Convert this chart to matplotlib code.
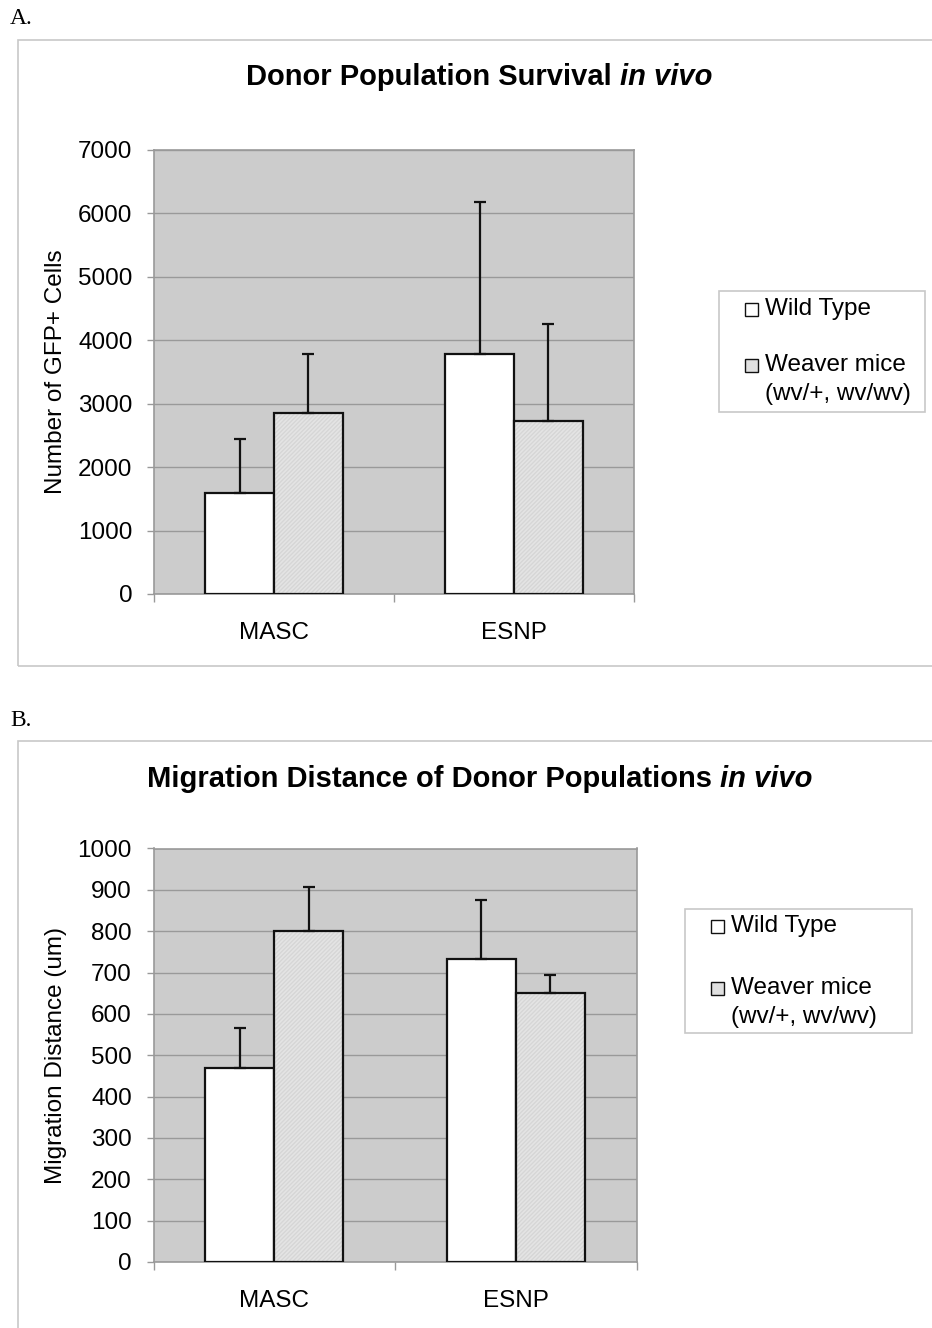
import matplotlib
matplotlib.use("Agg")
import matplotlib.pyplot as plt
from matplotlib.patches import Rectangle
import numpy as np

plt.rcParams['font.family'] = ['Liberation Sans', 'DejaVu Sans']

categories = ["MASC", "ESNP"]
series_names = ["Wild Type", "Weaver mice", "(wv/+, wv/wv)"]

# Panel A: Donor population survival
surv_wt = [1600, 3780]
surv_wt_err = [840, 2400]
surv_wv = [2850, 2720]
surv_wv_err = [935, 1540]

# Panel B: Migration distance
mig_wt = [470, 733]
mig_wt_err = [95, 142]
mig_wv = [800, 650]
mig_wv_err = [108, 43]

W, H = 932, 1328
FS = 17.5
fig = plt.figure(figsize=(W / 100, H / 100), dpi=100)


def fx(px):
    return px / W


def fy(py):
    return 1 - py / H


# Outer chart frames
fig.patches.append(Rectangle((fx(17.5), fy(666)), fx(932 - 17.5) + 0.01, fy(40) - fy(666),
                             transform=fig.transFigure, fill=False, edgecolor='#c8c8c8', lw=1.2))
fig.patches.append(Rectangle((fx(17.5), fy(1340)), fx(932 - 17.5) + 0.01, fy(741.5) - fy(1340),
                             transform=fig.transFigure, fill=False, edgecolor='#c8c8c8', lw=1.2))

fig.text(fx(10), fy(19), "A.", family='Liberation Serif', fontsize=17, va='center', ha='left')
fig.text(fx(10), fy(721), "B.", family='Liberation Serif', fontsize=17, va='center', ha='left')


def panel(rect, wt, wt_err, wv, wv_err, ymax, ystep, ylabel, leg_box, leg_y):
    ax = fig.add_axes(rect)
    ax.set_facecolor('#cccccc')
    x = np.arange(len(categories))
    w = 1 / 3.5
    ax.bar(x - w / 2, wt, width=w, color='white', edgecolor='#111111', lw=1.6, zorder=3)
    ax.bar(x + w / 2, wv, width=w, color='#e4e4e4', edgecolor='#d6d6d6', lw=0, hatch='////////', zorder=3)
    ax.bar(x + w / 2, wv, width=w, color='none', edgecolor='#111111', lw=1.6, zorder=4)
    ax.errorbar(x - w / 2, wt, yerr=[np.zeros(len(wt)), wt_err], fmt='none', ecolor='#111111',
                elinewidth=1.6, capsize=4.3, capthick=1.6, zorder=5)
    ax.errorbar(x + w / 2, wv, yerr=[np.zeros(len(wv)), wv_err], fmt='none', ecolor='#111111',
                elinewidth=1.6, capsize=4.3, capthick=1.6, zorder=5)
    ax.set_xlim(-0.5, len(categories) - 0.5)
    ax.set_ylim(0, ymax)
    ax.set_yticks(np.arange(0, ymax + 1, ystep))
    ax.yaxis.grid(True, color='#999999', lw=1.0)
    ax.set_axisbelow(True)
    ax.set_xticks(x)
    ax.set_xticklabels(categories, fontsize=FS)
    ax.set_xticks(np.arange(-0.5, len(categories), 1), minor=True)
    ax.tick_params(axis='x', which='major', length=0, pad=20)
    ax.tick_params(axis='x', which='minor', length=6, color='#999999', width=1)
    ax.tick_params(axis='y', length=5, color='#999999', width=1, labelsize=FS, pad=10.5)
    for s in ax.spines.values():
        s.set_color('#999999')
        s.set_linewidth(1.2)
    ax.set_ylabel(ylabel, fontsize=FS)
    axw_px = rect[2] * W
    ax.yaxis.set_label_coords((56 - rect[0] * W) / axw_px, 0.5)
    ax.yaxis.label.set_verticalalignment('center')
    # legend box
    lx0, ly0, lx1, ly1 = leg_box
    fig.patches.append(Rectangle((fx(lx0), fy(ly1)), fx(lx1) - fx(lx0), fy(ly0) - fy(ly1),
                                 transform=fig.transFigure, fill=True, facecolor='white',
                                 edgecolor='#c8c8c8', lw=1.2))
    mx = lx0 + 26
    for i, yy in enumerate(leg_y):
        fc = 'white' if i == 0 else '#e0e0e0'
        fig.patches.append(Rectangle((fx(mx), fy(yy + 6.5)), fx(13), fy(0) - fy(13),
                                     transform=fig.transFigure, facecolor=fc,
                                     edgecolor='#111111', lw=1.0))
    fig.text(fx(mx + 20), fy(leg_y[0]), series_names[0], fontsize=FS, ha='left', va='center')
    fig.text(fx(mx + 20), fy(leg_y[1]), series_names[1], fontsize=FS, ha='left', va='center')
    fig.text(fx(mx + 20), fy(leg_y[1] + 29), series_names[2], fontsize=FS, ha='left', va='center')
    return ax


axA = panel([fx(154), fy(594), fx(634) - fx(154), fy(150) - fy(594)],
            surv_wt, surv_wt_err, surv_wv, surv_wv_err, 7000, 1000,
            "Number of GFP+ Cells", (719, 291, 925, 412), (309, 365))
axB = panel([fx(153.5), fy(1262), fx(636.5) - fx(153.5), fy(848.5) - fy(1262)],
            mig_wt, mig_wt_err, mig_wv, mig_wv_err, 1000, 100,
            "Migration Distance (um)", (685, 909, 912, 1033), (926, 988))


def title(ypx, cx, pre):
    y = fy(ypx)
    t1 = fig.text(0, y, pre + " ", fontsize=21, fontweight='bold', ha='left', va='center')
    t2 = fig.text(0, y, "in vivo", fontsize=21, fontweight='bold', style='italic', ha='left', va='center')
    fig.canvas.draw()
    r = fig.canvas.get_renderer()
    w1 = t1.get_window_extent(r).width
    w2 = t2.get_window_extent(r).width
    start = cx - (w1 + w2) / 2
    t1.set_x(start / W)
    t2.set_x((start + w1) / W)


title(77, 479, "Donor Population Survival")
title(779, 480, "Migration Distance of Donor Populations")

fig.savefig("out.png", dpi=100)
